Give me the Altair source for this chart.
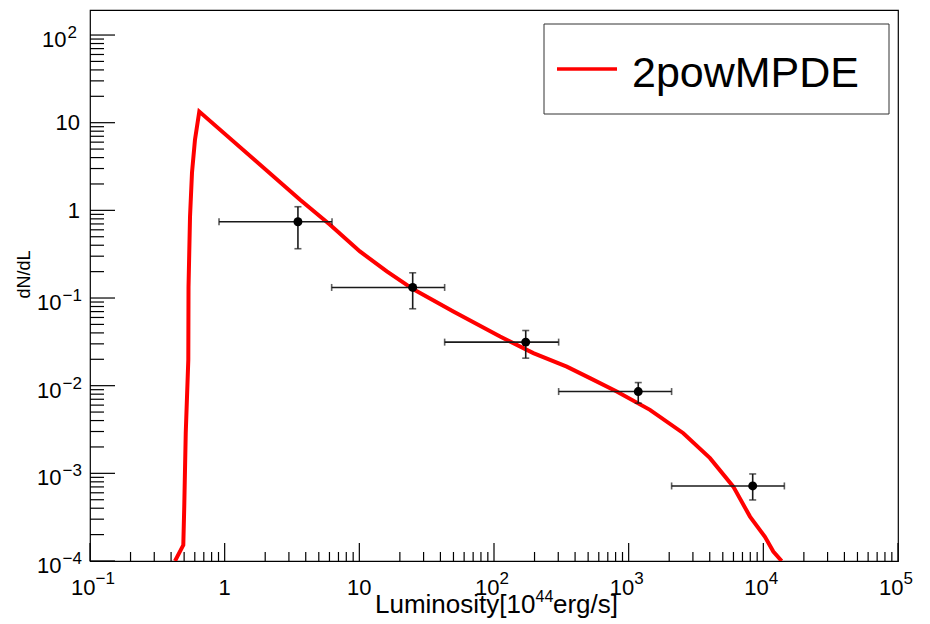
import altair as alt
import pandas as pd

# ---- data ----
curve_L = [0.428, 0.493, 0.501, 0.514, 0.537, 0.539, 0.553, 0.572, 0.602, 0.648,
           3.63, 6.06, 10.1, 16.0, 25.2, 49.9, 111, 196, 347, 516, 815, 1439,
           2546, 4018, 5984, 7962, 10280, 11860, 13680]
curve_N = [1.0e-4, 1.52e-4, 4.13e-4, 2.89e-3, 0.0197, 0.134, 0.845, 2.69, 6.40, 13.4,
           1.32, 0.686, 0.340, 0.201, 0.1256, 0.0702, 0.0364, 0.0235, 0.0165, 0.0122,
           0.00857, 0.0053, 0.00287, 0.00149, 0.000705, 0.000321, 0.000189, 0.000128, 1.0e-4]

pt_L = [3.50, 24.9, 172, 1178, 8337]
pt_Llo = [0.908, 6.23, 43.0, 302, 2084]
pt_Lhi = [6.27, 43.0, 302, 2084, 14330]
pt_N = [0.741, 0.132, 0.0314, 0.00857, 0.000718]
pt_Nlo = [0.365, 0.0754, 0.0206, 0.00631, 0.000497]
pt_Nhi = [1.10, 0.194, 0.0426, 0.01085, 0.000984]

x_major = [0.1, 1, 10, 100, 1000, 10000, 100000]
x_lab_base = ["10", "1", "10", "10", "10", "10", "10"]
x_lab_exp = ["−1", "", "", "2", "3", "4", "5"]
y_major = [1e-4, 1e-3, 1e-2, 1e-1, 1, 10, 100]
y_lab_base = ["10", "10", "10", "10", "1", "10", "10"]
y_lab_exp = ["−4", "−3", "−2", "−1", "", "", "2"]
minor_mult = [2, 3, 4, 5, 6, 7, 8, 9]
x_minor = [m * d for d in x_major[:-1] for m in minor_mult]
y_minor = [m * d for d in y_major for m in minor_mult if m * d <= 193]

legend_label = "2powMPDE"
x_title_parts = ["Luminosity[10", "44", "erg/s]"]
y_title = "dN/dL"

# ---- layout ----
W, H = 808, 551
FONT = "Liberation Sans"
LBL = 22
EXP = 17

curve = pd.DataFrame({"L": curve_L, "N": curve_N})
pts = pd.DataFrame({"L": pt_L, "Llo": pt_Llo, "Lhi": pt_Lhi,
                    "N": pt_N, "Nlo": pt_Nlo, "Nhi": pt_Nhi})
xl = pd.DataFrame({"v": x_major, "b": x_lab_base, "e": x_lab_exp})
yl = pd.DataFrame({"v": y_major, "b": y_lab_base, "e": y_lab_exp})

xs = alt.Scale(type="log", domain=[0.1, 100000], nice=False)
ys = alt.Scale(type="log", domain=[1e-4, 193], nice=False)


def X(f):
    return alt.X(f, scale=xs, axis=None)


def Y(f):
    return alt.Y(f, scale=ys, axis=None)


EB = "#1a1a1a"

line = alt.Chart(curve).mark_line(color="#ff0000", strokeWidth=4, clip=True).encode(
    x=X("L:Q"), y=Y("N:Q"), order=alt.Order("L:Q"))

ebx = alt.Chart(pts).mark_rule(color=EB, strokeWidth=1.6).encode(
    x=X("Llo:Q"), x2="Lhi:Q", y=Y("N:Q"))
eby = alt.Chart(pts).mark_rule(color=EB, strokeWidth=1.6).encode(
    x=X("L:Q"), y=Y("Nlo:Q"), y2="Nhi:Q")
cap_lo = alt.Chart(pts).mark_tick(color=EB, thickness=1.6, size=7, orient="vertical").encode(
    x=X("Llo:Q"), y=Y("N:Q"))
cap_hi = alt.Chart(pts).mark_tick(color=EB, thickness=1.6, size=7, orient="vertical").encode(
    x=X("Lhi:Q"), y=Y("N:Q"))
cap_ylo = alt.Chart(pts).mark_tick(color=EB, thickness=1.6, size=7, orient="horizontal").encode(
    x=X("L:Q"), y=Y("Nlo:Q"))
cap_yhi = alt.Chart(pts).mark_tick(color=EB, thickness=1.6, size=7, orient="horizontal").encode(
    x=X("L:Q"), y=Y("Nhi:Q"))
dots = alt.Chart(pts).mark_circle(color="black", opacity=1, size=80).encode(
    x=X("L:Q"), y=Y("N:Q"))

# inward ROOT-style ticks
ymaj = alt.Chart(pd.DataFrame({"v": y_major})).mark_rule(color="black", strokeWidth=1.2).encode(
    y=Y("v:Q"), x=alt.value(0), x2=alt.value(25))
ymin = alt.Chart(pd.DataFrame({"v": y_minor})).mark_rule(color="black", strokeWidth=1.2).encode(
    y=Y("v:Q"), x=alt.value(0), x2=alt.value(14))
xmaj = alt.Chart(pd.DataFrame({"v": x_major})).mark_rule(color="black", strokeWidth=1.2).encode(
    x=X("v:Q"), y=alt.value(H), y2=alt.value(H - 18))
xmin = alt.Chart(pd.DataFrame({"v": x_minor})).mark_rule(color="black", strokeWidth=1.2).encode(
    x=X("v:Q"), y=alt.value(H), y2=alt.value(H - 9))

# tick labels (ROOT style: base + raised exponent)
def txt(data, size, align, **kw):
    return alt.Chart(data).mark_text(font=FONT, fontSize=size, align=align,
                                     baseline="alphabetic", color="black", **kw)

xl_plain = txt(xl, LBL, "center").encode(
    x=X("v:Q"), y=alt.value(H + 34), text="b:N").transform_filter("datum.e == ''")
xl_base = txt(xl, LBL, "right", dx=5.5).encode(
    x=X("v:Q"), y=alt.value(H + 34), text="b:N").transform_filter("datum.e != ''")
xl_exp = txt(xl, EXP, "left", dx=5.5).encode(
    x=X("v:Q"), y=alt.value(H + 23), text="e:N").transform_filter("datum.e != ''")

yl_plain = txt(yl, LBL, "right", dy=7.7).encode(
    y=Y("v:Q"), x=alt.value(-10), text="b:N").transform_filter("datum.e == ''")
yl_base_neg = txt(yl, LBL, "right", dy=12).encode(
    y=Y("v:Q"), x=alt.value(-28.5), text="b:N").transform_filter("length(datum.e) == 2")
yl_exp_neg = txt(yl, EXP, "left", dy=3).encode(
    y=Y("v:Q"), x=alt.value(-27.5), text="e:N").transform_filter("length(datum.e) == 2")
yl_base_pos = txt(yl, LBL, "right", dy=12).encode(
    y=Y("v:Q"), x=alt.value(-23.5), text="b:N").transform_filter("length(datum.e) == 1")
yl_exp_pos = txt(yl, EXP, "left", dy=3).encode(
    y=Y("v:Q"), x=alt.value(-22.5), text="e:N").transform_filter("length(datum.e) == 1")

# axis titles
one = pd.DataFrame({"a": [0]})
xt1 = txt(one, 26, "left").encode(x=alt.value(285), y=alt.value(603),
                                  text=alt.value(x_title_parts[0]))
xt2 = txt(one, 16, "left").encode(x=alt.value(445.5), y=alt.value(592),
                                  text=alt.value(x_title_parts[1]))
xt3 = txt(one, 26, "left").encode(x=alt.value(463), y=alt.value(603),
                                  text=alt.value(x_title_parts[2]))
yt = txt(one, 18, "center", angle=270).encode(x=alt.value(-60), y=alt.value(264.5),
                                              text=alt.value(y_title))

# legend box
leg_box = alt.Chart(one).mark_rect(fill="white", stroke="#333", strokeWidth=1).encode(
    x=alt.value(454), x2=alt.value(799), y=alt.value(14), y2=alt.value(104))
leg_line = alt.Chart(one).mark_rule(color="#ff0000", strokeWidth=3.5).encode(
    x=alt.value(467), x2=alt.value(527), y=alt.value(59))
leg_text = txt(one, 43, "left").encode(
    x=alt.value(542), y=alt.value(77), text=alt.value(legend_label))

chart = alt.layer(
    line, xmin, xmaj, ymin, ymaj, ebx, eby, cap_lo, cap_hi, cap_ylo, cap_yhi, dots,
    xl_plain, xl_base, xl_exp, yl_plain, yl_base_neg, yl_exp_neg, yl_base_pos, yl_exp_pos,
    xt1, xt2, xt3, yt,
    leg_box, leg_line, leg_text
).properties(
    width=W, height=H,
    autosize=alt.AutoSizeParams(type="none"),
    padding={"left": 90, "top": 10, "right": 32, "bottom": 63},
    background="white",
).configure_view(stroke="black", strokeWidth=1.2)

chart.save("out.html", embed_options={"renderer": "svg", "actions": False})
